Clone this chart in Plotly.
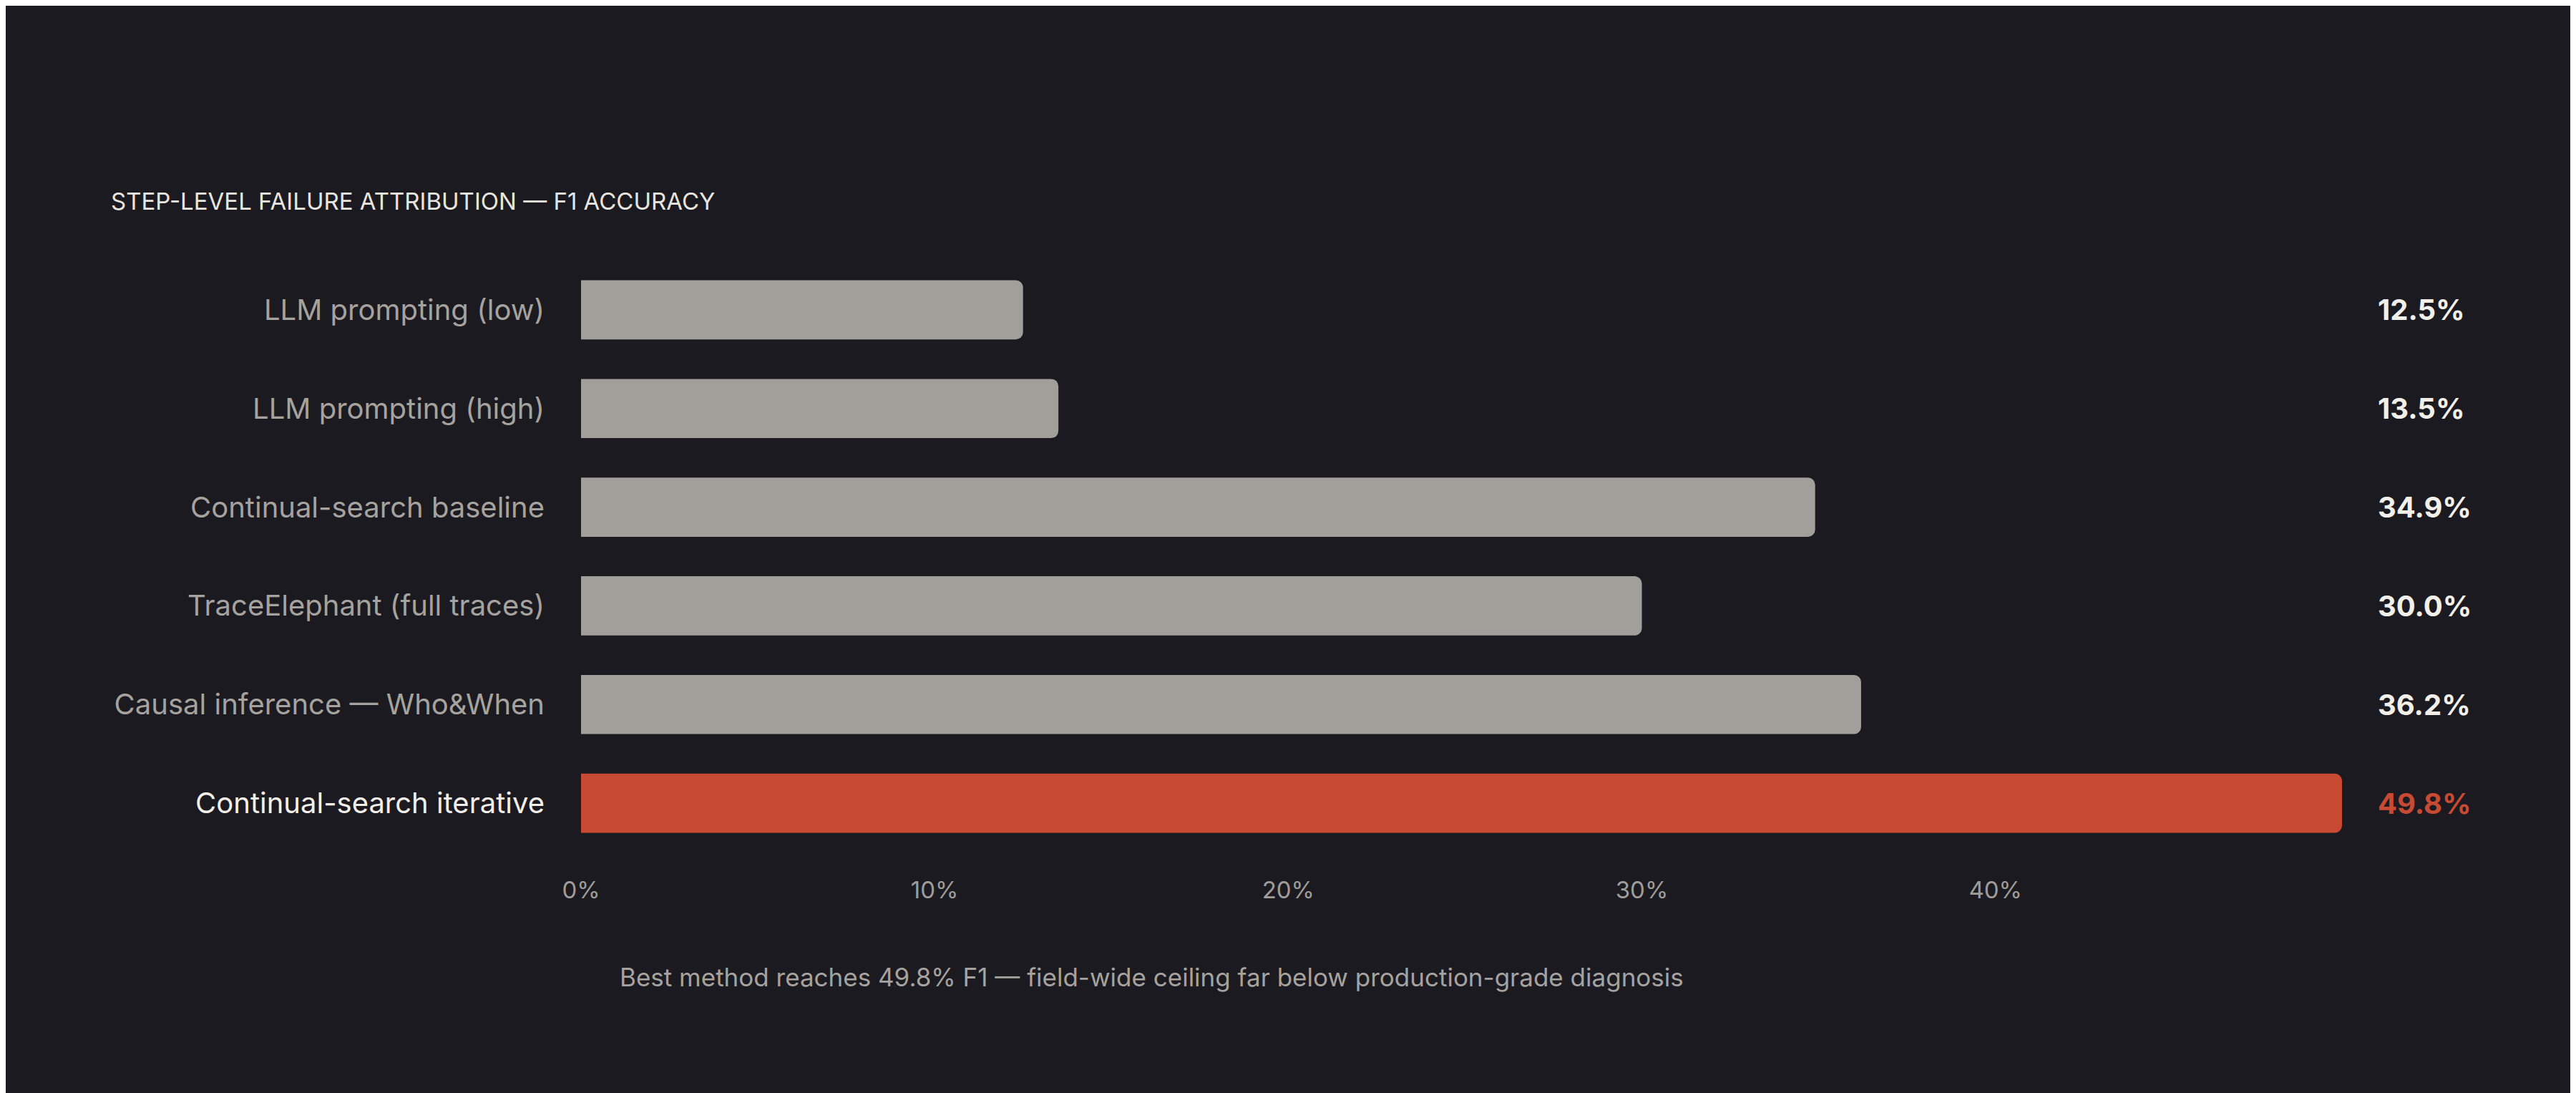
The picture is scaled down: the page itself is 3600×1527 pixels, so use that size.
import plotly.graph_objects as go

categories = ["LLM prompting (low)", "LLM prompting (high)", "Continual-search baseline",
              "TraceElephant (full traces)", "Causal inference — Who&When", "Continual-search iterative"]
values = [12.5, 13.5, 34.9, 30.0, 36.2, 49.8]
value_labels = ["12.5%", "13.5%", "34.9%", "30.0%", "36.2%", "49.8%"]
tick_vals = [0, 10, 20, 30, 40, 50]
tick_text = ["0%", "10%", "20%", "30%", "40%", "50%"]

BG = "#1b1a21"
GREY = "#a29e9a"
RED = "#c84a33"
bar_colors = [RED if i == len(values) - 1 else GREY for i in range(len(values))]
label_colors = ["#f2efe9" if i == len(values) - 1 else "#a6a29d" for i in range(len(values))]

fig = go.Figure(go.Bar(
    y=categories, x=values, orientation="h",
    marker=dict(color=bar_colors, line=dict(width=0)),
    hoverinfo="skip",
))

L, R, T, B = 804, 335, 356, 344
fig.update_layout(
    width=3600, height=1527,
    paper_bgcolor=BG, plot_bgcolor=BG,
    margin=dict(l=L, r=R, t=T, b=B),
    bargap=0.4, barcornerradius=10,
    font=dict(family="Inter, DejaVu Sans", color="#a6a29d"),
    showlegend=False,
    xaxis=dict(range=[0, 49.8], tickvals=tick_vals, ticktext=tick_text,
               showgrid=False, zeroline=False, showline=False, ticks="",
               tickfont=dict(size=33, color="#a09c98"), ticklabelstandoff=30),
    yaxis=dict(categoryorder="array", categoryarray=categories, autorange="reversed",
               tickvals=categories,
               ticktext=[f"<span style='color:{c}'>{t}</span>" for t, c in zip(categories, label_colors)],
               showgrid=False, zeroline=False, showline=False, ticks="",
               tickfont=dict(size=40), ticklabelstandoff=50),
)

px_w = 3600 - L - R
for i, (c, lab) in enumerate(zip(categories, value_labels)):
    fig.add_annotation(x=(3313 - L) / px_w, xref="paper", y=c, yref="y", text=f"<b>{lab}</b>",
                       showarrow=False, xanchor="left",
                       font=dict(size=40, color=RED if i == len(values) - 1 else "#f2efe9"))

fig.add_annotation(x=145 / 3600, y=1 - 273 / 1527, xref="paper", yref="paper", xanchor="left",
                   yanchor="middle", showarrow=False, xshift=-L + 0,
                   text="STEP-LEVEL FAILURE ATTRIBUTION — F1 ACCURACY",
                   font=dict(size=33, color="#e8e5df"))
fig.add_annotation(x=856 / 3600, y=1 - 1357 / 1527, xref="paper", yref="paper", xanchor="left",
                   yanchor="middle", showarrow=False, xshift=-L + 0,
                   text="Best method reaches 49.8% F1 — field-wide ceiling far below production-grade diagnosis",
                   font=dict(size=35, color="#a6a29d"))

# convert paper x for the two text annotations to figure coordinates
for a in fig.layout.annotations[-2:]:
    fx = a.x * 3600
    a.x = (fx - L) / px_w
    a.xshift = 0
    fy = (1 - a.y) * 1527
    a.y = 1 - (fy - T) / (1527 - T - B)

fig.write_html("out.html")
